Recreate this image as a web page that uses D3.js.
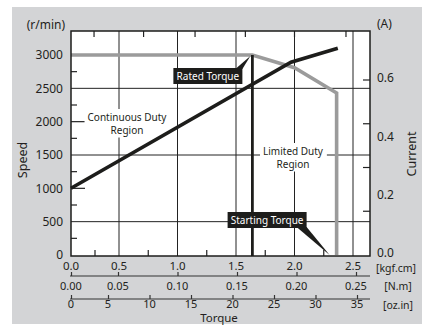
<!DOCTYPE html>
<html lang="en">
<head>
<meta charset="utf-8">
<title>Speed / current vs torque</title>
<script src="https://d3js.org/d3.v7.min.js"></script>
<style>
  body { margin: 0; background: #fff; }
  text { font-family: "Noto Sans", "Open Sans", sans-serif; fill: #231f20; }
</style>
</head>
<body>
<script>
// data
var speedTorque = [0, 1.64, 2.0, 2.36, 2.36];      // kgf.cm
var speedValues = [3000, 3000, 2810, 2430, 0];     // r/min
var currentTorque = [0, 1.97, 2.37];
var currentValues = [0.229, 0.661, 0.709];         // A
var ratedTorque = 1.64;
var startingTorque = 2.30;

var speedTicks = [0, 500, 1000, 1500, 2000, 2500, 3000];
var speedGrid = [500, 1500, 2500];
var speedMid = [1000, 2000, 3000];
var speedMinor = [250, 750, 1250, 1750, 2250, 2750];
var currentTicks = [0.0, 0.2, 0.4, 0.6];
var currentMinor = [0.15, 0.3, 0.45, 0.6];
var kgfTicks = [0.0, 0.5, 1.0, 1.5, 2.0, 2.5];
var kgfMinor = [0.25, 0.75, 1.25, 1.75, 2.25];
var topMinor = [0.24, 0.71, 1.15, 1.58, 2.0, 2.44];
var nmTicks = [0.00, 0.05, 0.10, 0.15, 0.20, 0.25];
var ozTicks = [0, 5, 10, 15, 20, 25, 30, 35];

var W = 422, H = 325;
var plot = {left: 71, right: 370, top: 31, bottom: 256};

var svg = d3.select("body").append("svg")
  .attr("width", W).attr("height", H);

// background panel
svg.append("rect").attr("x", 12).attr("y", 7)
  .attr("width", W - 12).attr("height", 317).attr("fill", "#d3d4d6");

// scales
var x = d3.scaleLinear().domain([0, 0.5, 2.5]).range([71, 119, 353]);
var xNm = d3.scaleLinear().domain([0, 0.05, 0.25]).range([71, 118, 356]);
var xOz = d3.scaleLinear().domain([0, 5, 35]).range([71, 108, 357]);
var y = d3.scaleLinear().domain([0, 3360]).range([255, 31]);
var yA = d3.scaleLinear().domain([0, 0.6]).range([255, 80]);

svg.append("rect")
  .attr("x", plot.left).attr("y", plot.top)
  .attr("width", plot.right - plot.left).attr("height", plot.bottom - plot.top)
  .attr("fill", "#fff");

var g = svg.append("g");

// grid
g.selectAll(".hg").data(speedGrid).enter().append("line")
  .attr("x1", plot.left).attr("x2", plot.right)
  .attr("y1", function(d) { return y(d); }).attr("y2", function(d) { return y(d); })
  .attr("stroke", "#222").attr("stroke-width", 1);
g.selectAll(".vg").data(kgfTicks.slice(1)).enter().append("line")
  .attr("y1", plot.top).attr("y2", plot.bottom)
  .attr("x1", function(d) { return x(d); }).attr("x2", function(d) { return x(d); })
  .attr("stroke", "#222").attr("stroke-width", 1);

// inner ticks
function hTicks(vals, scale, x0, len) {
  g.selectAll(null).data(vals).enter().append("line")
    .attr("x1", x0).attr("x2", x0 + len)
    .attr("y1", function(d) { return scale(d); }).attr("y2", function(d) { return scale(d); })
    .attr("stroke", "#222").attr("stroke-width", 1.2);
}
hTicks(speedMinor, y, plot.left, 6);
hTicks(speedMid, y, plot.left, 14);
hTicks(currentMinor, yA, plot.right, -7);
g.selectAll(null).data(kgfMinor).enter().append("line")
  .attr("y1", plot.bottom).attr("y2", plot.bottom - 6)
  .attr("x1", function(d) { return x(d); }).attr("x2", function(d) { return x(d); })
  .attr("stroke", "#222").attr("stroke-width", 1.2);
g.selectAll(null).data(topMinor).enter().append("line")
  .attr("y1", plot.top).attr("y2", plot.top + 6)
  .attr("x1", function(d) { return x(d); }).attr("x2", function(d) { return x(d); })
  .attr("stroke", "#222").attr("stroke-width", 1.2);

// region labels with white knockout
function regionLabel(lines, cx, cy) {
  var lg = svg.append("g");
  var t = lg.append("text").attr("text-anchor", "middle").attr("font-size", 10);
  lines.forEach(function(s, i) {
    t.append("tspan").attr("x", cx).attr("y", cy + i * 12.5).text(s);
  });
  var bb = t.node().getBBox();
  lg.insert("rect", "text").attr("x", bb.x - 3).attr("y", bb.y - 1)
    .attr("width", bb.width + 6).attr("height", bb.height + 2).attr("fill", "#fff");
}
regionLabel(["Continuous Duty", "Region"], 127, 121);
regionLabel(["Limited Duty", "Region"], 293, 155);

// curves
var speedPts = speedTorque.map(function(t, i) { return [t, speedValues[i]]; });
var currentPts = currentTorque.map(function(t, i) { return [t, currentValues[i]]; });

svg.append("path").datum(speedPts)
  .attr("d", d3.line().x(function(d) { return x(d[0]); }).y(function(d) { return y(d[1]); }))
  .attr("fill", "none").attr("stroke", "#9b9b9b").attr("stroke-width", 3.6)
  .attr("stroke-linejoin", "miter");

svg.append("path").datum(currentPts)
  .attr("d", d3.line().x(function(d) { return x(d[0]); }).y(function(d) { return yA(d[1]); }))
  .attr("fill", "none").attr("stroke", "#1d1d1b").attr("stroke-width", 3.6);

svg.append("line")
  .attr("x1", x(ratedTorque)).attr("x2", x(ratedTorque))
  .attr("y1", y(3000)).attr("y2", plot.bottom)
  .attr("stroke", "#1d1d1b").attr("stroke-width", 2.8);

// plot frame
svg.append("rect")
  .attr("x", plot.left).attr("y", plot.top)
  .attr("width", plot.right - plot.left).attr("height", plot.bottom - plot.top)
  .attr("fill", "none").attr("stroke", "#1d1d1b").attr("stroke-width", 1.5);

// callouts
function callout(label, bx, by, bw, tip, base) {
  var c = svg.append("g");
  c.append("path")
    .attr("d", "M" + base[0] + "," + base[1] + "L" + tip[0] + "," + tip[1] + "L" + base[2] + "," + base[3] + "Z")
    .attr("fill", "#1d1d1b");
  c.append("rect").attr("x", bx).attr("y", by).attr("width", bw).attr("height", 16)
    .attr("fill", "#1d1d1b");
  c.append("text").attr("x", bx + bw / 2).attr("y", by + 8).attr("dy", "0.35em")
    .attr("text-anchor", "middle").attr("font-size", 10).style("fill", "#fff").text(label);
}
var rx = x(ratedTorque);
callout("Rated Torque", rx - 79, 68, 69, [rx - 2, y(3000) + 1], [rx - 17, 69, rx - 10, 69]);
var sx = x(startingTorque);
callout("Starting Torque", sx - 102, 212, 79, [sx, plot.bottom - 1], [sx - 33, 227, sx - 23, 227]);

// left axis labels
svg.selectAll(".ly").data(speedTicks).enter().append("text")
  .attr("x", 63).attr("y", function(d) { return y(d); }).attr("dy", "0.35em")
  .attr("text-anchor", "end").attr("font-size", 12).text(function(d) { return d; });
// right axis labels
svg.selectAll(".ry").data(currentTicks).enter().append("text")
  .attr("x", 377).attr("y", function(d) { return yA(d) - 2; }).attr("dy", "0.35em")
  .attr("font-size", 12).text(function(d) { return d.toFixed(1); });

// torque scales
svg.selectAll(".kx").data(kgfTicks).enter().append("text")
  .attr("x", function(d) { return x(d); }).attr("y", 266).attr("dy", "0.35em")
  .attr("text-anchor", "middle").attr("font-size", 11.5).text(function(d) { return d.toFixed(1); });

var nmAxis = d3.axisTop(xNm).tickValues(nmTicks).tickSize(4).tickFormat("");
var nmG = svg.append("g").attr("transform", "translate(0,276)").call(nmAxis);
var ozAxis = d3.axisTop(xOz).tickValues(ozTicks).tickSize(4).tickFormat("");
var ozG = svg.append("g").attr("transform", "translate(0,299)").call(ozAxis);
[nmG, ozG].forEach(function(a) {
  a.select(".domain").attr("d", "M70,0H370").attr("stroke", "#333").attr("stroke-width", 1.2);
  a.selectAll(".tick line").attr("stroke", "#333").attr("stroke-width", 1.2);
});

svg.selectAll(".nx").data(nmTicks).enter().append("text")
  .attr("x", function(d) { return xNm(d); }).attr("y", 286).attr("dy", "0.35em")
  .attr("text-anchor", "middle").attr("font-size", 11).text(function(d) { return d.toFixed(2); });
svg.selectAll(".ox").data(ozTicks).enter().append("text")
  .attr("x", function(d) { return xOz(d); }).attr("y", 304.5).attr("dy", "0.35em")
  .attr("text-anchor", "middle").attr("font-size", 11).text(function(d) { return d; });

// units and titles
function label(s, px, py, anchor, size, rot) {
  var t = svg.append("text").attr("font-size", size).attr("text-anchor", anchor)
    .attr("dy", "0.35em").text(s);
  if (rot) t.attr("transform", "translate(" + px + "," + py + ") rotate(" + rot + ")");
  else t.attr("x", px).attr("y", py);
}
label("(r/min)", 65, 25, "end", 12);
label("(A)", 377, 24, "start", 12);
label("[kgf.cm]", 396, 268, "middle", 10.5);
label("[N.m]", 398, 286, "middle", 10.5);
label("[oz.in]", 398, 305, "middle", 10.5);
label("Speed", 23, 160, "middle", 12.5, -90);
label("Current", 412, 154, "middle", 12.5, -90);
label("Torque", 219, 317.5, "middle", 11.5);
</script>
</body>
</html>
